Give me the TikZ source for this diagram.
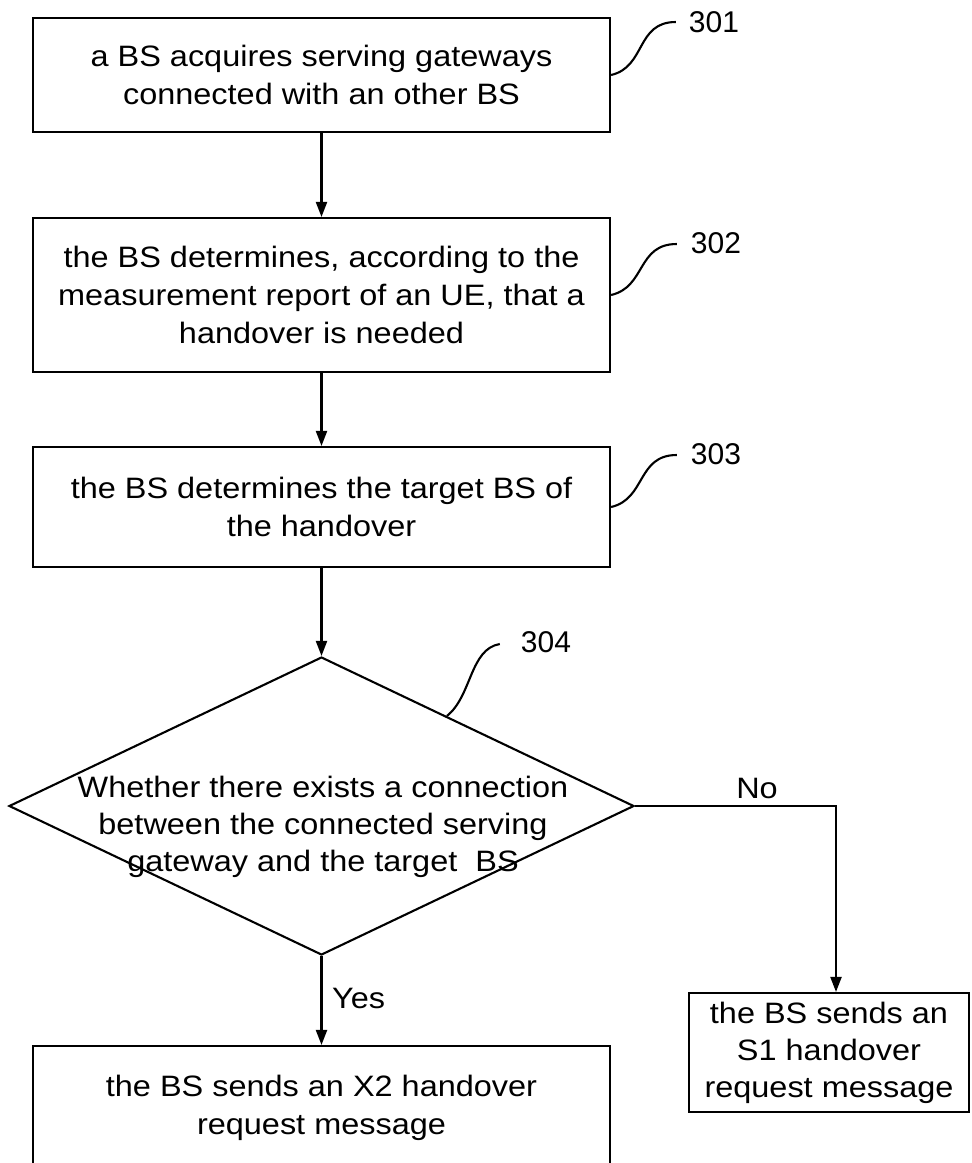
\documentclass[tikz,border=0pt]{standalone}
\usepackage{fontspec}
\setmainfont{Liberation Sans}[FakeStretch=1.1]
\newfontfamily\numfont{Liberation Sans}
\usetikzlibrary{arrows.meta,shapes.geometric,calc}

\tikzset{
  stepbox/.style={draw, line width=2.1pt, align=center, inner sep=0pt,
    font=\fontsize{29.5}{38}\selectfont, minimum width=577pt},
  decision/.style={draw, diamond, line width=2.1pt, inner sep=0pt,
    minimum width=625pt, minimum height=298pt},
  flow/.style={line width=2.1pt, -{Triangle[length=15pt,width=11pt]}},
  leader/.style={line width=2.1pt},
  refnum/.style={font=\numfont\fontsize{30}{36}\selectfont, inner sep=0pt},
  branch/.style={font=\fontsize{29.5}{36}\selectfont, inner sep=0pt}
}

\begin{document}
\begin{tikzpicture}[x=1pt, y=-1pt]
  \useasboundingbox (0,0) rectangle (972,1163);
  \clip (0,0) rectangle (972,1163);
  \fill[white] (0,0) rectangle (972,1163);

  % process steps
  \node[stepbox, minimum height=114pt] (b1) at (321.5,75)
    {a BS acquires serving gateways\\connected with an other BS};
  \node[stepbox, minimum height=154pt] (b2) at (321.5,295)
    {the BS determines, according to the\\measurement report of an UE, that a\\handover is needed};
  \node[stepbox, minimum height=120pt] (b3) at (321.5,507)
    {the BS determines the target BS of\\the handover};

  % decision
  \node[decision] (d) at (321.5,806) {};
  \node[align=center, inner sep=0pt, font=\fontsize{29.5}{37}\selectfont] (dt) at (323,827)
    {Whether there exists a connection\\between the connected serving\\gateway and the target\ \ BS};

  % outcomes
  \node[stepbox, minimum height=124pt] (x2) at (321.5,1108)
    {the BS sends an X2 handover\\request message};
  \node[stepbox, minimum width=280pt, minimum height=119pt, font=\fontsize{29.5}{37}\selectfont]
    (s1) at (829,1052.5)
    {the BS sends an\\S1 handover\\request message};

  % flow connectors
  \draw[flow] (b1) -- (b2);
  \draw[flow] (b2) -- (b3);
  \draw[flow] (b3) -- (d.north);
  \draw[flow] (d.south) -- (x2.north);
  \draw[flow] (d.east) -| ([xshift=7pt]s1.north);

  % branch labels
  \node[branch, anchor=west] (yes) at (332,998) {Yes};
  \node[branch] (no) at (757,788) {No};

  % reference numerals
  \node[refnum] (l301) at (714,22) {301};
  \node[refnum] (l302) at (716,243) {302};
  \node[refnum] (l303) at (716,454) {303};
  \node[refnum] (l304) at (546,642) {304};

  \draw[leader] (b1.east) .. controls +(35,-8) and +(-40,0) .. ([xshift=-13pt]l301.west);
  \draw[leader] (b2.east) .. controls +(35,-8) and +(-40,0) .. ([xshift=-14pt,yshift=-1pt]l302.west);
  \draw[leader] (b3.east) .. controls +(35,-8) and +(-40,0) .. ([xshift=-14pt,yshift=-1pt]l303.west);
  \coordinate (d304) at ($(d.north)!0.4!(d.east)$);
  \draw[leader] (d304) .. controls +(25,-20) and +(-30,5) .. ([xshift=-21pt,yshift=-2pt]l304.west);
\end{tikzpicture}
\end{document}
